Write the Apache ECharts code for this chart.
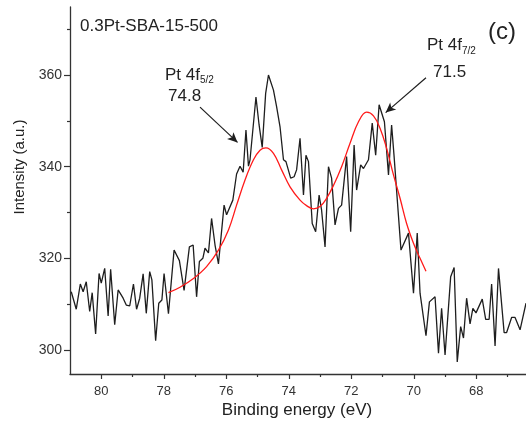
<!DOCTYPE html>
<html>
<head>
<meta charset="utf-8">
<script src="https://cdn.jsdelivr.net/npm/echarts@6.0.0/dist/echarts.min.js"></script>
<style>
  html, body { margin: 0; padding: 0; background: #fff; }
  #chart { width: 526px; height: 427px; }
</style>
</head>
<body>
<div id="chart"></div>
<script>
// ---- data ----
// measured spectrum (black)
const energy = [
  80.96, 80.80, 80.67, 80.58, 80.48, 80.37, 80.29, 80.18, 80.07, 80.00,
  79.89, 79.78, 79.70, 79.57, 79.46, 79.30, 79.20, 79.09, 78.97, 78.87,
  78.77, 78.66, 78.56, 78.45, 78.38, 78.26, 78.16, 78.06, 77.99, 77.85,
  77.67, 77.50, 77.35, 77.18, 77.06, 76.95, 76.86, 76.75, 76.68, 76.57,
  76.47, 76.36, 76.25, 76.07, 75.99, 75.79, 75.67, 75.56, 75.46, 75.37,
  75.29, 75.24, 75.05, 74.95, 74.85, 74.74, 74.65, 74.49, 74.39, 74.28,
  74.17, 74.09, 73.94, 73.83, 73.75, 73.64, 73.53, 73.45, 73.37, 73.25,
  73.14, 73.03, 72.95, 72.84, 72.73, 72.63, 72.52, 72.41, 72.31, 72.15,
  72.02, 71.91, 71.83, 71.70, 71.61, 71.45, 71.33, 71.22, 71.11, 70.94,
  70.81, 70.71, 70.63, 70.41, 70.17, 70.01, 69.89, 69.80, 69.61, 69.50,
  69.32, 69.21, 69.11, 69.00, 68.82, 68.71, 68.61, 68.50, 68.41, 68.31,
  68.20, 68.11, 68.01, 67.81, 67.70, 67.59, 67.51, 67.40, 67.29, 67.11,
  67.03, 66.87, 66.76, 66.60, 66.41
];
const intensity = [
  312.7, 308.9, 314.4, 312.7, 314.9, 308.4, 312.5, 303.5, 316.7, 314.6,
  317.8, 307.4, 317.6, 305.5, 313.1, 311.3, 309.8, 309.6, 314.4, 308.9,
  311.3, 316.6, 308.0, 317.1, 315.3, 302.0, 310.2, 310.9, 316.7, 307.9,
  321.8, 319.5, 313.0, 322.5, 322.9, 311.6, 319.3, 320.0, 322.2, 321.2,
  328.7, 322.9, 318.8, 331.6, 329.5, 332.7, 338.4, 340.1, 338.8, 348.0,
  340.1, 341.5, 355.2, 349.1, 344.2, 356.0, 360.0, 356.7, 353.1, 348.7,
  341.5, 341.1, 337.5, 337.8, 339.3, 346.2, 333.8, 342.5, 341.1, 327.6,
  325.8, 333.8, 330.5, 322.5, 340.0, 337.5, 327.3, 330.9, 331.6, 342.2,
  325.8, 344.7, 334.9, 340.4, 339.6, 341.5, 349.5, 342.5, 353.5, 349.8,
  338.2, 349.1, 342.2, 321.8, 325.5, 312.4, 325.5, 312.4, 303.1, 310.5,
  311.6, 299.3, 309.1, 298.9, 316.0, 318.0, 297.4, 305.1, 302.6, 311.3,
  305.7, 309.1, 308.1, 311.1, 306.7, 306.7, 314.4, 300.9, 317.8, 303.8,
  303.8, 307.1, 307.1, 304.4, 310.2
];

// fitted envelope (red)
const fitEnergy = [
  77.85, 77.48, 77.05, 76.63, 76.25, 75.93, 75.67, 75.40, 75.13, 74.92,
  74.73, 74.49, 74.23, 73.96, 73.64, 73.43, 73.21, 73.00, 72.79, 72.57,
  72.31, 72.04, 71.77, 71.51, 71.29, 71.08, 70.87, 70.65, 70.44, 70.23,
  70.01, 69.80, 69.61
];
const fitIntensity = [
  312.5, 313.7, 315.6, 318.2, 321.8, 326.2, 331.6, 337.1, 341.5, 343.6,
  344.1, 342.9, 339.3, 335.6, 332.7, 331.5, 330.8, 331.3, 333.1, 335.9,
  340.0, 345.1, 349.8, 351.9, 351.1, 348.4, 344.0, 338.2, 333.1, 327.6,
  323.3, 320.0, 317.2
];

// ticks
const xMajorTicks = [80, 78, 76, 74, 72, 70, 68];
const xMinorTicks = [79, 77, 75, 73, 71, 69, 67];
const yMajorTicks = [300, 320, 340, 360];
const yMinorTicks = [310, 330, 350, 370];

// arrows: [from, to] in data units
const arrows = [
  [[76.84, 353.0], [75.64, 345.3]],
  [[69.61, 359.4], [70.90, 351.8]]
];

// ---- chart ----
const FONT = '"Liberation Sans", Arial, sans-serif';
const AXIS_COLOR = '#333';
const TEXT_COLOR = '#222';

const chart = echarts.init(document.getElementById('chart'), null, { renderer: 'canvas' });

function axisBase(extra) {
  return Object.assign({
    type: 'value',
    scale: true,
    splitLine: { show: false },
    minorSplitLine: { show: false }
  }, extra);
}

const option = {
  animation: false,
  backgroundColor: '#fff',
  grid: {
    left: 70, right: 0, top: 7, bottom: 53,
    containLabel: false,
    outerBoundsMode: 'none'
  },
  xAxis: [
    axisBase({
      min: 66.41, max: 81, inverse: true, position: 'bottom',
      axisLine: { show: true, lineStyle: { color: AXIS_COLOR, width: 1.3 } },
      axisTick: { show: true, length: 5, customValues: xMajorTicks,
        lineStyle: { color: AXIS_COLOR, width: 1.2 } },
      axisLabel: { show: true, customValues: xMajorTicks, margin: 11,
        fontSize: 13, fontFamily: FONT, color: AXIS_COLOR }
    }),
    axisBase({
      min: 66.41, max: 81, inverse: true, position: 'bottom',
      axisLine: { show: false },
      axisTick: { show: true, length: 3, customValues: xMinorTicks,
        lineStyle: { color: AXIS_COLOR, width: 1.2 } },
      axisLabel: { show: false }
    })
  ],
  yAxis: [
    axisBase({
      min: 294.76, max: 374.84, position: 'left',
      axisLine: { show: true, lineStyle: { color: AXIS_COLOR, width: 1.3 } },
      axisTick: { show: true, length: 6, customValues: yMajorTicks,
        lineStyle: { color: AXIS_COLOR, width: 1.2 } },
      axisLabel: { show: true, customValues: yMajorTicks, margin: 8,
        fontSize: 14, fontFamily: FONT, color: AXIS_COLOR }
    }),
    axisBase({
      min: 294.76, max: 374.84, position: 'left',
      axisLine: { show: false },
      axisTick: { show: true, length: 3, customValues: yMinorTicks,
        lineStyle: { color: AXIS_COLOR, width: 1.2 } },
      axisLabel: { show: false }
    })
  ],
  series: [
    {
      name: 'spectrum',
      type: 'line',
      data: energy.map((e, i) => [e, intensity[i]]),
      symbol: 'none',
      smooth: false,
      lineStyle: { color: '#1e1e1e', width: 1.3 },
      z: 2,
      markLine: {
        silent: true,
        symbol: ['none', 'arrow'],
        symbolSize: [7, 10],
        label: { show: false },
        lineStyle: { color: '#1e1e1e', width: 1.2, type: 'solid' },
        data: arrows.map(a => [{ coord: a[0] }, { coord: a[1] }])
      }
    },
    {
      name: 'fit',
      type: 'line',
      data: fitEnergy.map((e, i) => [e, fitIntensity[i]]),
      symbol: 'none',
      smooth: 0.4,
      lineStyle: { color: '#ff1a1a', width: 1.3 },
      z: 3
    }
  ],
  graphic: [
    { type: 'text', x: 20, y: 167, rotation: Math.PI / 2,
      style: { text: 'Intensity (a.u.)', font: '15px ' + FONT, fill: TEXT_COLOR,
        align: 'center', verticalAlign: 'middle' } },
    { type: 'text', x: 297, y: 410,
      style: { text: 'Binding energy (eV)', font: '17px ' + FONT, fill: TEXT_COLOR,
        align: 'center', verticalAlign: 'middle' } },
    { type: 'text', x: 80, y: 26,
      style: { text: '0.3Pt-SBA-15-500', font: '17px ' + FONT, fill: TEXT_COLOR,
        align: 'left', verticalAlign: 'middle' } },
    { type: 'text', x: 502, y: 32,
      style: { text: '(c)', font: '24px ' + FONT, fill: TEXT_COLOR,
        align: 'center', verticalAlign: 'middle' } },
    { type: 'text', x: 165, y: 75,
      style: { text: 'Pt 4f', font: '17px ' + FONT, fill: TEXT_COLOR,
        align: 'left', verticalAlign: 'middle' } },
    { type: 'text', x: 200, y: 80,
      style: { text: '5/2', font: '10px ' + FONT, fill: TEXT_COLOR,
        align: 'left', verticalAlign: 'middle' } },
    { type: 'text', x: 168, y: 96,
      style: { text: '74.8', font: '17px ' + FONT, fill: TEXT_COLOR,
        align: 'left', verticalAlign: 'middle' } },
    { type: 'text', x: 427, y: 45,
      style: { text: 'Pt 4f', font: '17px ' + FONT, fill: TEXT_COLOR,
        align: 'left', verticalAlign: 'middle' } },
    { type: 'text', x: 462, y: 51,
      style: { text: '7/2', font: '10px ' + FONT, fill: TEXT_COLOR,
        align: 'left', verticalAlign: 'middle' } },
    { type: 'text', x: 433, y: 72,
      style: { text: '71.5', font: '17px ' + FONT, fill: TEXT_COLOR,
        align: 'left', verticalAlign: 'middle' } }
  ]
};

chart.setOption(option);
</script>
</body>
</html>
